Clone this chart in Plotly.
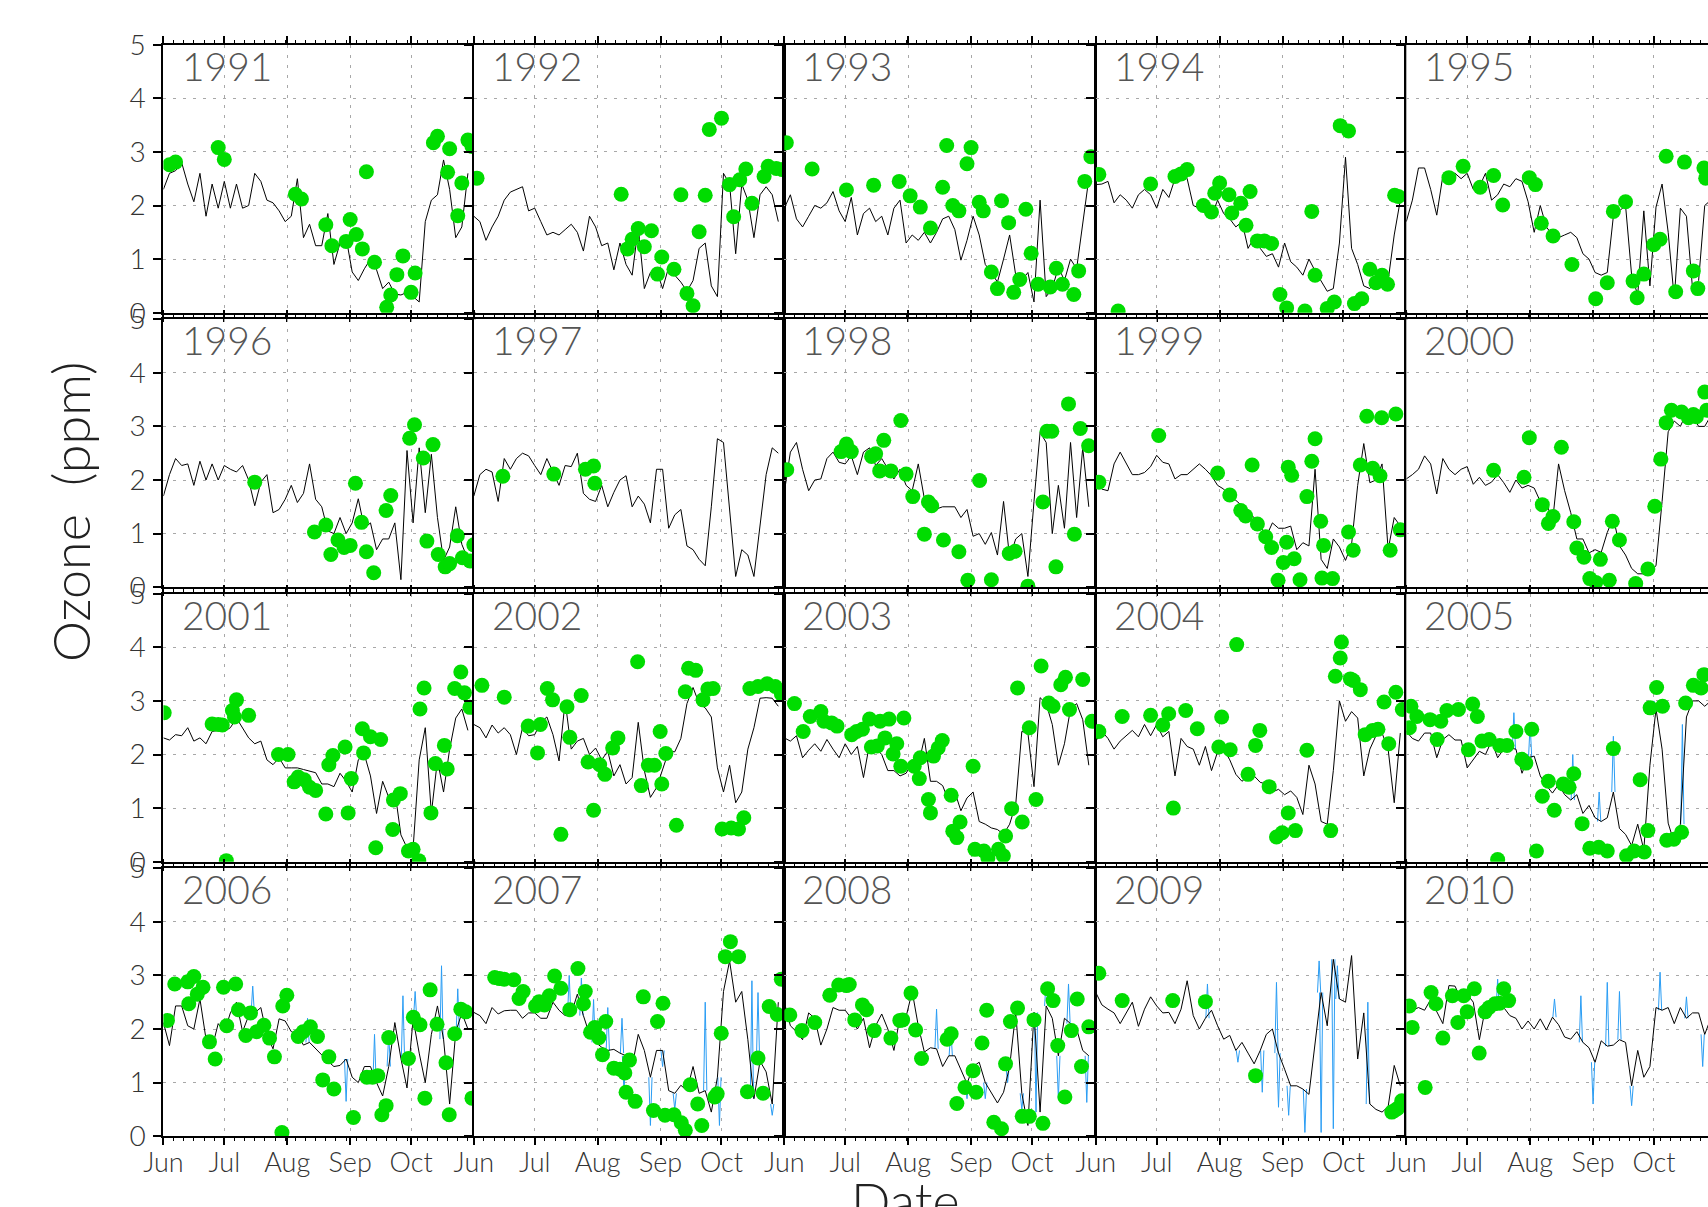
import plotly.graph_objects as go

# ---------------- data ----------------
YEARS = [1991, 1992, 1993, 1994, 1995, 1996, 1997, 1998, 1999, 2000,
         2001, 2002, 2003, 2004, 2005, 2006, 2007, 2008, 2009, 2010]
MONTH_LABELS = ["Jun", "Jul", "Aug", "Sep", "Oct"]
MONTH_DAYS = [0, 30, 61, 92, 122]          # days after 1 June
DAY_GRID = [0, 3, 6, 9, 12, 15, 18, 21, 24, 27, 30, 33, 36, 39, 42, 45, 48, 51,
            54, 57, 60, 63, 66, 69, 72, 75, 78, 81, 84, 87, 90, 93, 96, 99, 102,
            105, 108, 111, 114, 117, 120, 123, 126, 129, 132, 135, 138, 141, 144,
            147, 150]

oz_1991 = [2.3,2.6,2.65,2.8,2.4,2.07,2.6,1.8,2.4,1.95,2.45,1.95,2.4,1.95,2.0,2.6,2.45,2.1,2.05,1.9,1.7,1.8,2.5,1.4,1.65,1.25,1.25,1.85,0.9,1.3,1.4,0.76,0.6,0.82,1.0,0.8,0.45,0.57,0.35,0.33,0.38,0.3,0.2,1.7,2.1,2.2,2.85,2.3,1.4,1.6,2.6]
oz_1992 = [1.8,1.7,1.35,1.6,1.8,2.1,2.25,2.3,2.35,1.9,1.95,1.7,1.45,1.5,1.45,1.55,1.65,1.5,1.15,1.8,1.6,1.25,1.3,0.8,1.3,0.9,0.7,1.6,0.45,0.75,0.8,0.45,0.85,0.7,0.57,0.4,0.6,1.2,1.3,0.5,0.3,2.6,2.4,1.1,2.4,2.1,1.4,2.2,2.35,2.2,1.7]
oz_1993 = [1.95,2.2,1.75,1.6,1.8,2.0,1.95,2.05,2.26,1.9,1.7,2.15,1.45,1.85,1.95,1.7,1.8,1.45,1.95,2.1,1.3,1.45,1.35,1.5,1.3,1.5,1.75,1.8,1.55,0.98,1.35,1.8,1.45,0.9,0.75,0.57,1.0,1.45,0.7,0.6,0.75,0.2,2.1,0.3,0.45,0.85,0.6,1.0,0.82,1.7,2.5]
oz_1994 = [2.39,2.4,2.45,2.05,2.2,2.1,1.95,2.2,2.3,2.2,1.95,2.3,2.15,2.5,2.65,2.5,2.0,1.95,1.85,1.8,2.1,1.85,1.75,1.6,1.7,1.2,1.4,1.2,1.05,1.1,0.85,1.3,0.95,0.85,0.7,1.0,0.78,0.6,0.4,0.45,1.3,2.9,1.2,0.9,0.5,0.45,0.6,0.7,0.6,1.45,2.1]
oz_1995 = [1.7,2.1,2.7,2.7,2.3,1.82,2.55,2.45,2.6,2.5,2.6,2.3,2.35,2.6,2.1,2.2,2.4,2.35,2.5,2.45,2.07,1.5,2.0,1.6,1.45,1.4,1.45,1.5,1.4,1.1,1.0,0.75,0.7,0.75,1.8,1.9,2.0,0.7,0.33,1.9,0.5,1.97,2.4,1.5,0.26,1.95,1.8,0.45,0.6,2.0,2.1]
oz_1996 = [1.7,2.1,2.4,2.27,2.3,1.9,2.35,2.0,2.3,2.0,2.27,2.2,2.15,2.27,2.0,1.52,1.96,2.1,1.39,1.45,1.64,1.9,1.58,1.75,2.3,1.64,1.5,1.05,1.0,1.3,1.0,1.2,1.65,1.1,1.2,0.7,0.9,0.9,1.2,0.14,2.55,1.2,2.6,1.39,2.48,1.3,0.5,0.75,1.5,0.8,0.52]
oz_1997 = [1.7,2.1,2.2,2.15,1.6,2.4,2.2,2.4,2.5,2.45,2.27,2.1,2.4,2.14,1.9,2.27,2.25,2.5,1.75,1.64,1.6,1.9,1.5,1.77,2.0,2.08,1.5,1.7,1.55,1.2,2.2,2.2,1.1,1.35,1.45,0.77,0.7,0.52,0.4,1.5,2.77,2.7,1.5,0.2,0.7,0.6,0.2,1.2,2.1,2.6,2.5]
oz_1998 = [1.77,2.52,2.7,2.2,1.8,2.0,2.02,2.4,2.52,2.33,2.3,2.45,2.1,2.52,2.6,2.27,2.4,2.2,2.02,2.2,1.9,1.8,2.3,1.65,1.55,1.46,1.5,1.5,1.5,1.3,1.45,0.95,1.0,0.8,1.02,0.6,1.6,0.55,0.9,1.0,0.2,1.6,2.89,2.7,1.0,1.9,1.1,2.7,1.3,2.6,1.5]
oz_1999 = [1.96,1.83,1.8,2.3,2.52,2.3,2.1,2.1,2.14,2.25,2.46,2.33,2.3,2.02,2.1,2.1,2.2,2.3,2.2,2.08,1.9,1.83,1.7,1.62,1.52,1.39,1.3,1.14,0.95,1.2,1.1,1.1,1.14,0.7,0.83,0.77,2.2,0.52,0.35,0.9,0.75,0.5,0.8,1.9,2.68,1.95,2.0,2.3,0.7,1.3,1.14]
oz_2000 = [2.02,2.1,2.2,2.45,2.3,1.74,2.4,2.2,2.1,2.2,2.25,1.92,2.05,1.9,1.96,2.1,1.95,1.77,2.0,1.85,1.9,1.85,1.6,1.6,1.2,2.3,1.8,1.39,0.9,0.9,0.64,0.7,0.65,1.02,1.3,0.77,0.6,0.35,0.25,0.25,0.3,0.4,1.6,2.9,3.1,3.0,3.25,3.2,3.0,3.0,3.2]
oz_2001 = [2.31,2.27,2.37,2.35,2.5,2.25,2.31,2.2,2.43,2.45,2.43,2.5,2.68,2.5,2.31,2.2,2.25,1.9,1.81,1.94,1.75,1.75,1.75,1.72,1.69,1.66,1.45,1.45,1.4,1.65,1.5,1.3,1.9,2.0,1.6,0.9,1.5,1.2,1.32,0.5,0.26,0.25,1.9,2.5,0.9,1.9,1.3,2.1,2.68,2.85,2.45]
oz_2002 = [2.56,2.5,2.31,2.55,2.4,2.5,2.37,2.0,2.5,2.35,2.37,2.6,2.7,2.37,1.88,3.0,2.1,2.25,2.3,2.0,2.12,1.9,2.06,1.6,1.81,1.45,1.57,2.6,1.7,1.2,1.38,1.7,2.06,2.05,2.3,2.95,3.25,2.95,2.87,2.7,1.75,1.3,1.8,1.1,1.3,2.1,2.5,3.05,3.06,3.05,2.9]
oz_2003 = [2.31,2.25,2.35,1.94,2.08,2.2,2.06,2.28,2.1,1.94,2.2,2.0,2.15,1.57,2.2,2.12,2.0,1.7,1.7,1.6,1.65,1.85,1.8,2.3,1.5,1.5,1.42,1.13,1.3,0.95,1.19,1.3,0.75,0.7,0.63,0.6,0.51,0.7,1.07,2.43,2.4,1.4,3.06,2.95,2.56,1.8,2.2,2.85,2.95,2.65,1.8]
oz_2004 = [2.25,2.43,2.3,2.1,2.25,2.35,2.45,2.33,2.56,2.35,2.56,2.33,2.43,1.6,2.3,2.15,2.1,1.8,2.15,1.7,2.05,2.1,1.9,1.63,1.5,1.6,1.6,1.48,1.45,1.3,1.35,1.25,1.32,1.2,0.88,1.8,1.45,0.75,0.7,1.7,3.0,2.62,2.8,2.68,1.6,2.1,2.35,2.4,2.1,1.1,2.4]
oz_2005 = [2.43,2.3,2.25,2.4,2.4,1.94,2.28,2.37,2.27,2.27,1.75,1.9,2.06,2.0,2.25,1.94,2.1,2.12,2.1,1.65,1.94,1.97,1.6,1.42,1.28,1.44,1.25,1.15,1.25,0.9,1.05,0.82,0.75,0.82,1.3,0.62,0.51,0.3,0.7,0.22,1.8,2.85,2.1,0.72,0.35,0.7,2.7,3.0,3.0,2.9,3.0]
oz_2006 = [2.12,1.69,2.43,2.43,2.06,2.0,2.56,1.81,1.65,2.1,1.94,2.3,2.5,1.95,2.25,2.3,2.4,1.88,1.63,2.19,2.15,1.95,1.9,1.7,1.75,1.63,1.5,1.4,1.3,1.32,1.44,1.1,1.0,1.3,1.3,1.0,0.75,1.3,2.12,1.45,0.9,2.19,1.55,1.0,1.9,2.43,1.81,0.6,1.94,2.3,2.0]
oz_2007 = [2.31,2.25,2.1,2.4,2.28,2.34,2.35,2.35,2.2,2.3,2.3,2.2,2.2,2.5,2.35,2.25,2.28,2.65,2.25,1.9,1.75,1.66,1.6,1.62,1.55,1.5,1.3,1.9,1.6,1.1,1.6,1.6,0.85,0.8,0.95,0.85,1.3,0.8,0.85,0.45,1.1,2.7,3.27,2.5,2.7,1.8,0.7,1.4,1.2,0.6,2.5]
oz_2008 = [2.5,2.06,1.95,1.8,2.3,2.2,1.7,2.0,2.4,2.35,2.35,2.2,2.0,2.2,1.65,2.06,2.28,2.0,1.6,2.22,2.23,2.7,2.06,1.57,1.65,1.63,1.3,1.5,1.5,1.25,0.98,1.3,1.38,1.0,0.82,0.62,0.82,1.3,2.31,0.8,0.2,2.31,0.45,2.43,2.2,1.5,2.2,2.1,2.0,1.6,1.5]
oz_2009 = [2.68,2.45,2.37,2.3,2.1,2.31,2.5,2.05,2.37,2.6,2.43,2.3,2.31,2.1,2.37,2.9,2.25,2.0,2.2,2.35,2.06,1.81,1.88,1.6,1.75,1.55,1.35,1.6,1.9,2.0,1.55,1.25,0.94,0.94,0.88,0.78,1.75,2.68,2.06,3.3,2.56,2.5,3.37,1.44,2.3,0.6,0.5,0.45,0.55,1.32,0.94]
oz_2010 = [2.56,2.35,2.4,2.35,2.55,2.31,2.1,2.81,2.8,2.55,2.65,2.5,1.8,2.4,2.3,2.37,2.4,2.25,2.2,2.0,2.15,2.0,2.19,1.98,2.22,2.08,1.85,1.81,1.95,1.75,1.65,1.38,1.78,1.68,1.7,1.8,1.75,0.94,1.6,1.1,1.3,2.4,2.35,2.4,2.1,2.4,2.2,2.3,2.3,1.9,2.2]

# green observations: day after 1 June, ozone
dot_day_1991 = [3,6,27,30,65,68,80,83,90,92,95,98,100,104,110,112,115,118,122,124,133,135,140,141,145,147,150,152]
dot_val_1991 = [2.76,2.81,3.08,2.86,2.21,2.12,1.64,1.25,1.33,1.74,1.46,1.19,2.63,0.94,0.1,0.33,0.71,1.06,0.38,0.74,3.17,3.29,2.62,3.06,1.81,2.42,3.22,3.1]
dot_day_1992 = [1.6,72.6,75.7,78,81,84,87.5,90.5,92.6,98.6,102,105,108,111,114,116,122,126,128,131,134,137,143,145,149,152]
dot_val_1992 = [2.51,2.21,1.19,1.37,1.57,1.23,1.53,0.72,1.04,0.81,2.2,0.36,0.13,1.51,2.19,3.42,3.63,2.39,1.79,2.48,2.68,2.04,2.54,2.73,2.69,2.67]
dot_day_1993 = [1,13.7,30.6,44,56.6,62,67,72,78,80,83,86,90,92,96,98,102,105,107,110.5,113,116,119,121.6,125,131,134,137,142.6,145,148,151]
dot_val_1993 = [3.17,2.68,2.29,2.38,2.45,2.18,1.97,1.58,2.34,3.12,2.0,1.9,2.78,3.08,2.06,1.9,0.76,0.45,2.09,1.68,0.38,0.62,1.93,1.11,0.53,0.48,0.83,0.53,0.34,0.78,2.45,2.91]
dot_day_1994 = [1.5,11,27,39,42,45,53,57,58.6,61,65.6,67,71.4,74,76,79.6,83,86.6,90.7,94,103,106.4,108,114,117.5,120.4,124.5,127.4,131,135,138,141,143.7,147.2,149]
dot_val_1994 = [2.58,0.03,2.4,2.54,2.59,2.67,2.0,1.88,2.23,2.42,2.2,1.86,2.04,1.63,2.26,1.34,1.34,1.29,0.34,0.09,0.03,1.89,0.7,0.08,0.2,3.49,3.39,0.17,0.26,0.81,0.56,0.7,0.53,2.19,2.17]
dot_day_1995 = [21,28,36.4,43,47.5,60.6,63.6,66.5,72.3,81.6,93.3,99,102,108,111.7,113.7,117,121.9,125,128,132.7,137,141.4,143.6,146.6,147.5]
dot_val_1995 = [2.52,2.73,2.34,2.56,2.01,2.52,2.39,1.67,1.43,0.9,0.26,0.56,1.89,2.07,0.59,0.28,0.72,1.27,1.37,2.92,0.39,2.81,0.78,0.45,2.7,2.51]
dot_day_1996 = [45,74.4,80,82.5,86,89,92,94.6,97.6,100,103.6,109.7,112,121.3,123.7,128,132.8,129.8,135.4,138.8,141,144.8,147.3,151,152.9]
dot_val_1996 = [1.96,1.03,1.16,0.61,0.88,0.74,0.78,1.94,1.21,0.66,0.27,1.43,1.71,2.78,3.03,2.41,2.66,0.86,0.61,0.38,0.44,0.96,0.55,0.49,0.79]
dot_day_1997 = [14.3,39.4,55,59,59.6]
dot_val_1997 = [2.07,2.11,2.2,2.26,1.94]
dot_day_1998 = [1.2,28,30.6,33,43,45,47,49,52.5,57.4,60,63.3,71,72.6,69,78.4,86,90.4,96.2,102,110.8,113.7,120,127.4,129.4,131.8,133.8,140,142.9,145.8,149.9]
dot_val_1998 = [2.19,2.53,2.67,2.53,2.44,2.49,2.17,2.74,2.17,3.11,2.11,1.69,1.59,1.52,0.99,0.88,0.66,0.13,1.99,0.14,0.63,0.67,0.02,1.59,2.91,2.91,0.38,3.42,0.99,2.96,2.64]
dot_day_1999 = [1.5,31,60,66,71.4,73.8,79.6,83.7,86.6,77,94,92.4,89.8,94.8,96.5,97.7,100.6,104,106.4,108,110.8,112.2,111.4,116.6,124.5,126.8,130.3,133.5,136.4,140,140.8,145,147.8,150]
dot_val_1999 = [1.96,2.83,2.13,1.72,1.43,1.33,1.18,0.94,0.74,2.28,0.84,0.46,0.13,2.24,2.09,0.53,0.14,1.69,2.35,2.77,1.23,0.78,0.17,0.16,1.03,0.69,2.28,3.19,2.22,2.08,3.16,0.69,3.23,1.07]
dot_day_2000 = [43,58,60.6,67,70,72.3,76.4,82.5,84,87.5,90.4,93.3,95.6,100,101.5,105,113,119,122.4,125.4,128,130.6,135.6,139,141.4,142.9,147,148]
dot_val_2000 = [2.18,2.05,2.79,1.54,1.19,1.32,2.61,1.22,0.73,0.56,0.16,0.09,0.52,0.13,1.23,0.88,0.07,0.34,1.51,2.39,3.07,3.3,3.27,3.16,3.22,3.18,3.64,3.3]
dot_day_2001 = [0.4,24,27,29,31,34,35,36,42,56.7,61.4,64.4,66.4,69.4,72,75,80,81.5,83.5,89.5,91,92.5,98,98.6,102,107,104.6,113.3,116.7,113,120.7,123,125.8,126.4,128.4,131.8,134,138.4,139.8,143.5,146.5,148.3,151]
dot_val_2001 = [2.78,2.57,2.56,2.55,0.02,2.82,2.7,3.02,2.73,2.0,2.0,1.49,1.58,1.53,1.39,1.33,0.89,1.81,1.98,2.14,0.91,1.55,2.48,2.03,2.33,2.28,0.26,1.15,1.27,0.6,0.2,0.23,0.02,2.85,3.24,0.91,1.83,2.17,1.73,3.23,3.54,3.15,2.88]
dot_day_2002 = [4,15,26.8,31.4,32.8,36.2,38.8,45.9,47.3,52.9,42.9,56.3,59,62,64.6,68.4,71,80.7,82.5,86,89,91.8,92.6,94.6,99.8,104.2,105.8,109.3,112.9,115.3,117.9,122.3,126.8,130.4,133,136,140,144.5,148.5,151.5]
dot_val_2002 = [3.29,3.07,2.53,2.03,2.56,3.23,3.02,2.89,2.32,3.1,0.51,1.86,0.96,1.81,1.63,2.12,2.31,3.73,1.42,1.8,1.8,2.43,1.45,2.02,0.68,3.17,3.61,3.57,3.02,3.22,3.23,0.61,0.63,0.61,0.82,3.23,3.27,3.32,3.27,3.13]
dot_day_2003 = [5,9.3,12.8,18,19.5,23.3,26,33.2,35.6,38.5,42,47.2,51.6,58.9,42.9,45.8,49.6,53.6,55.4,57.4,64,67,66.5,73.5,75.8,77.8,71,72,82.2,86.6,83,85,93,93.9,98.3,100.3,105.5,107.9,109,112,114.9,117.2,120.7,124,126.5,130.3,132.4,136.2,138.5,140.5,147,151.6]
dot_val_2003 = [2.95,2.43,2.71,2.8,2.62,2.59,2.53,2.37,2.43,2.47,2.66,2.62,2.66,2.68,2.14,2.16,2.31,2.01,2.2,1.78,1.78,1.94,1.55,1.97,2.12,2.26,1.16,0.91,1.24,0.74,0.57,0.45,1.78,0.23,0.2,0.07,0.23,0.11,0.48,0.99,3.24,0.74,2.5,1.16,3.65,2.96,2.9,3.3,3.44,2.84,3.4,2.62]
dot_day_2004 = [1.5,13,27,33,35.9,44.3,38.2,50,60.6,62,66.2,69.4,78.7,80.8,75,85.4,89,91.8,94.8,98.3,104,115.7,118,120.4,121,125.4,126.8,130.3,132.7,136.4,139,144.3,142,147.8,151]
dot_val_2004 = [2.43,2.71,2.73,2.55,2.76,2.82,1.0,2.48,2.14,2.7,2.09,4.05,2.17,2.45,1.63,1.4,0.46,0.54,0.91,0.58,2.08,0.58,3.46,3.8,4.1,3.41,3.38,3.21,2.37,2.45,2.47,2.2,2.98,3.16,2.84]
dot_day_2005 = [2.3,1.5,5.2,11.7,15.2,17,20,25.7,32.7,35,30.6,37.3,40.8,46,49.6,54,56.9,58.9,61.8,64.1,67,70,72.9,77.3,80.2,82.5,86.6,90.4,94.8,99,102,45,108.5,112.2,115.2,117.2,119,120.1,123.3,126.2,128.3,131.8,135.6,137.6,141.4,145.2,146.6]
dot_val_2005 = [2.9,2.5,2.71,2.65,2.28,2.62,2.82,2.84,2.94,2.71,2.09,2.25,2.28,2.17,2.17,2.43,1.91,1.84,2.47,0.2,1.22,1.5,0.96,1.45,1.39,1.64,0.71,0.25,0.27,0.2,2.11,0.04,0.11,0.2,1.53,0.18,0.58,2.87,3.25,2.9,0.4,0.42,0.55,2.96,3.29,3.24,3.49]
dot_day_2006 = [2,5.6,12.5,12,15,16.7,19.5,22.7,25.5,29.6,31.2,35.6,37,40.6,42.9,45.9,49.5,52.3,54.7,58.8,60.8,58.4,66.4,68.8,72.4,75.9,81.5,78.5,84,93.6,100.2,103,105.6,107.6,109.7,111,120.7,123.1,126.4,128.8,131.4,134.8,139.2,140.8,143.5,146.5,148.9,152]
dot_val_2006 = [2.16,2.84,2.47,2.88,2.98,2.65,2.78,1.76,1.44,2.78,2.06,2.84,2.36,1.88,2.3,1.95,2.07,1.83,1.48,2.43,2.63,0.07,1.86,1.95,2.04,1.86,1.48,1.05,0.88,0.35,1.1,1.1,1.13,0.4,0.57,1.84,1.45,2.22,2.08,0.71,2.73,2.09,1.37,0.4,1.91,2.37,2.32,0.71]
dot_day_2007 = [10.3,12.7,15,19.7,22.3,24.3,30.4,32.2,34.8,37.2,39.8,42.9,47.3,51.3,54,54.9,57.5,59.6,61.6,63.4,65,69,72,74.4,76.7,75,79.5,83.5,88.5,90.5,93.2,94.2,98.6,102.2,104.2,106.6,110.3,112.3,118.7,119.9,121.9,123.9,126.4,130.4,134.8,140,142.5,145.5,149.5,151.5]
dot_val_2007 = [2.96,2.94,2.93,2.92,2.57,2.7,2.43,2.51,2.45,2.62,2.99,2.76,2.36,3.13,2.47,2.7,1.94,2.03,1.84,1.52,2.14,1.27,1.25,1.18,1.42,0.82,0.65,2.6,0.48,2.14,2.48,0.39,0.4,0.25,0.11,0.96,0.6,0.2,0.73,0.79,1.92,3.35,3.63,3.35,0.83,1.46,0.8,2.42,2.27,2.93]
dot_day_2008 = [2.7,8.7,15,22.4,26.8,30.6,32,34.7,38.5,40.5,44.3,52.5,56.9,58.3,62.4,64.7,67.6,80.2,82.2,85,89,93,94.5,99.7,97.4,103.2,107,109,111.4,114.9,117.2,120.7,123,127.4,129.7,132.4,134.7,138.2,141.4,144.3,146.4,150]
dot_val_2008 = [2.26,1.97,2.12,2.63,2.82,2.81,2.83,2.17,2.45,2.36,1.97,1.83,2.16,2.17,2.67,1.98,1.45,1.81,1.91,0.61,0.91,1.22,0.82,2.35,1.74,0.26,0.14,1.35,2.14,2.39,0.37,0.37,2.17,0.24,2.75,2.53,1.69,0.73,1.97,2.56,1.3,2.04]
dot_day_2009 = [1.5,13,37.9,54,78.7,145.8,147.2,148.7,150.7]
dot_val_2009 = [3.04,2.53,2.53,2.51,1.13,0.45,0.48,0.52,0.66]
dot_day_2010 = [1.5,2.9,9.3,12.2,14.6,18,22.7,25.4,28.3,30,33.5,35.9,38.8,40.8,43.7,46,48,50.4]
dot_val_2010 = [2.43,2.03,0.91,2.68,2.47,1.83,2.62,2.12,2.62,2.32,2.75,1.55,2.32,2.4,2.47,2.48,2.75,2.53]

# blue (second instrument) excursions: day, peak value
blue_day_2005 = [53,61,82,95,102,122,136]
blue_val_2005 = [2.78,2.56,2.0,1.3,2.34,3.0,2.56]
blue_day_2006 = [44,71,90,104,111,118,124,137,145]
blue_val_2006 = [2.8,2.2,0.65,1.9,1.9,2.62,2.7,3.18,2.75]
blue_day_2007 = [47,53,59,66,73,74,87,93,99,114,121,137,140,147]
blue_val_2007 = [3.0,2.95,2.55,2.4,2.2,0.8,0.2,1.3,0.5,2.5,0.2,2.9,2.68,0.39]
blue_day_2008 = [62,75,82,90,99,110,117,124,129,135,140,149]
blue_val_2008 = [2.56,2.37,2.0,0.7,0.7,1.0,0.5,0.45,2.87,0.7,2.84,0.63]
blue_day_2009 = [55,70,82,89,90,95,103,110,111,117,119,134]
blue_val_2009 = [2.84,1.38,0.82,2.87,0.54,0.39,0.07,3.27,0.07,0.14,3.18,2.5]
blue_day_2010 = [45,73,86,92,99,105,111,125,138,146]
blue_val_2010 = [2.93,2.56,2.62,0.6,2.87,2.7,0.57,3.06,2.6,1.3]

OZONE = {1991: oz_1991, 1992: oz_1992, 1993: oz_1993, 1994: oz_1994, 1995: oz_1995,
         1996: oz_1996, 1997: oz_1997, 1998: oz_1998, 1999: oz_1999, 2000: oz_2000,
         2001: oz_2001, 2002: oz_2002, 2003: oz_2003, 2004: oz_2004, 2005: oz_2005,
         2006: oz_2006, 2007: oz_2007, 2008: oz_2008, 2009: oz_2009, 2010: oz_2010}
DOTS = {y: (globals()["dot_day_%d" % y], globals()["dot_val_%d" % y]) for y in YEARS}
BLUE = {y: (globals()["blue_day_%d" % y], globals()["blue_val_%d" % y])
        for y in [2005, 2006, 2007, 2008, 2009, 2010]}

# ---------------- layout geometry (window pixels) ----------------
W, H = 1708, 1207
COL_LEFT = [163.4, 473.8, 784.3, 1095.8, 1406.3]
COL_W = 310.6
ROW_TOP = [44.7, 319.2, 593.7, 868.2]
ROW_H = 268.0
X_SPAN = 153.0


def px(xw):
    return xw / W


def py(yw):
    return 1 - yw / H


FONT = "Lato, Liberation Sans, Arial, sans-serif"
TXT = "#333333"
GREEN = "#00dc00"
BLUE_C = "#2a9df4"

fig = go.Figure()
layout = dict(template="none", width=W, height=H,
              margin=dict(l=0, r=0, t=0, b=0, pad=0, autoexpand=False),
              paper_bgcolor="white", plot_bgcolor="white", showlegend=False,
              font=dict(family=FONT, color=TXT, weight=300))
annotations = []

for i, yr in enumerate(YEARS):
    r, c = divmod(i, 5)
    n = i + 1
    xs = "" if n == 1 else str(n)
    xref, yref = "x" + xs, "y" + xs

    left = COL_LEFT[c]
    right = left + COL_W
    xmax = X_SPAN
    if right > W:
        xmax = X_SPAN * (W - left) / COL_W
        right = W
    top = ROW_TOP[r]
    bot = top + ROW_H

    vals = OZONE[yr]
    if yr in BLUE:
        bx, by = [], []
        for d, p in zip(*BLUE[yr]):
            base = vals[min(len(vals) - 1, int(round(d / 3.0)))]
            bx += [d - 0.8, d, d + 0.8, None]
            by += [base, p, base, None]
        fig.add_trace(go.Scatter(x=bx, y=by, mode="lines", xaxis=xref, yaxis=yref,
                                 line=dict(color=BLUE_C, width=1), hoverinfo="skip"))
    fig.add_trace(go.Scatter(x=DAY_GRID[:len(vals)], y=vals, mode="lines",
                             xaxis=xref, yaxis=yref,
                             line=dict(color="#000000", width=1)))
    dd, dv = DOTS[yr]
    fig.add_trace(go.Scatter(x=dd, y=dv, mode="markers", xaxis=xref, yaxis=yref,
                             marker=dict(color=GREEN, size=15, line=dict(width=0))))

    layout["xaxis" + xs] = dict(
        domain=[px(left), min(1.0, px(right))], range=[0, xmax], anchor=yref,
        automargin=False,
        tickmode="array", tickvals=MONTH_DAYS, ticktext=MONTH_LABELS,
        showticklabels=(r == 3), ticks="outside", ticklen=7, tickwidth=1.5,
        tickcolor="#000", ticklabelstandoff=-6,
        tickfont=dict(family=FONT, size=27, color=TXT, weight=300),
        minor=dict(tick0=0, dtick=5, ticks="outside", ticklen=3, tickwidth=1,
                   tickcolor="#000", showgrid=False),
        showline=True, linewidth=2, linecolor="#000", mirror="ticks",
        showgrid=True, gridcolor="#a8a8a8", gridwidth=1, griddash="3px,7px",
        zeroline=False, fixedrange=True)
    layout["yaxis" + xs] = dict(
        domain=[py(bot), py(top)], range=[0, 5], anchor=xref,
        automargin=False,
        tickmode="array", tickvals=[0, 1, 2, 3, 4, 5],
        showticklabels=(c == 0), ticks="outside", ticklen=8, tickwidth=1.5,
        tickcolor="#000", ticklabelstandoff=2,
        tickfont=dict(family=FONT, size=28, color=TXT, weight=300),
        showline=True, linewidth=2, linecolor="#000", mirror=True,
        showgrid=True, gridcolor="#a8a8a8", gridwidth=1, griddash="3px,7px",
        zeroline=False, fixedrange=True)

    annotations.append(dict(text=str(yr), xref=xref + " domain", yref=yref + " domain",
                            x=0.052, y=0.922, xanchor="left", yanchor="middle",
                            showarrow=False,
                            font=dict(family=FONT, size=39, color="#555555", weight=300)))

annotations.append(dict(text="Ozone  (ppm)", xref="paper", yref="paper",
                        x=px(70), y=py(512), textangle=-90,
                        xanchor="center", yanchor="middle", showarrow=False,
                        font=dict(family=FONT, size=52, color="#222222", weight=300)))
annotations.append(dict(text="Date", xref="paper", yref="paper",
                        x=px(905), y=py(1200), xanchor="center", yanchor="middle",
                        showarrow=False,
                        font=dict(family=FONT, size=52, color="#222222", weight=300)))
layout["annotations"] = annotations
fig.update_layout(**layout)

fig.write_html(
    "out.html",
    config={"displayModeBar": False},
    post_script=("document.body.style.margin='0';"
                 "document.body.style.padding='0';"
                 "document.documentElement.style.overflow='hidden';"),
)
